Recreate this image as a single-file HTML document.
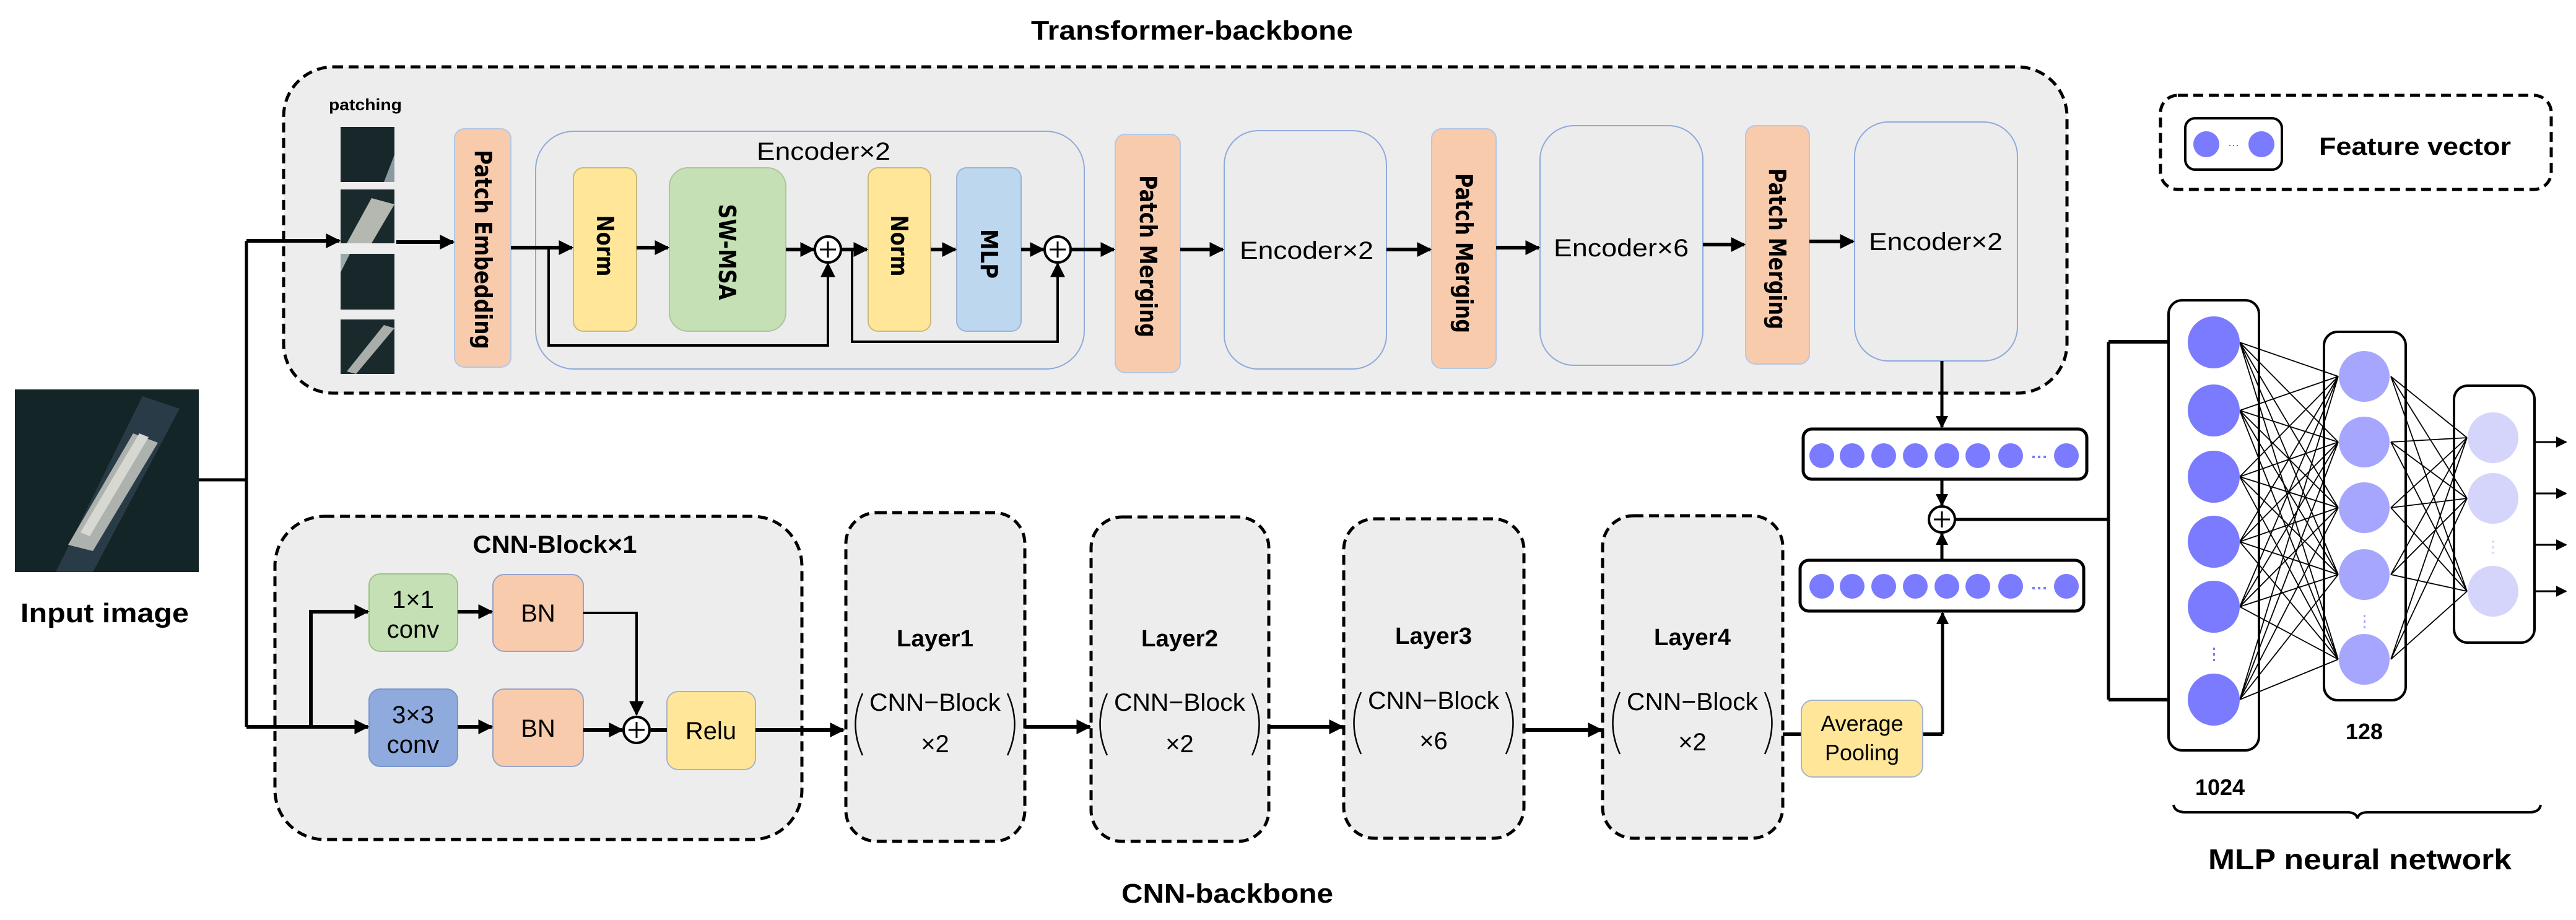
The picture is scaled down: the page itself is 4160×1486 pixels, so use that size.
<!DOCTYPE html>
<html><head><meta charset="utf-8"><style>html,body{margin:0;padding:0;background:#fff}svg{display:block}</style></head>
<body>
<svg width="4160" height="1486" viewBox="0 0 4160 1486" xmlns="http://www.w3.org/2000/svg" font-family="Liberation Sans, sans-serif">
<defs>
<marker id="a" viewBox="0 0 10 10" refX="9" refY="5" markerWidth="4" markerHeight="4" orient="auto" markerUnits="strokeWidth"><path d="M0 0L10 5L0 10z" fill="#000"/></marker>
<marker id="b" viewBox="0 0 10 10" refX="9" refY="5" markerWidth="6" markerHeight="6" orient="auto" markerUnits="strokeWidth"><path d="M0 0L10 5L0 10z" fill="#000"/></marker>
</defs>

<!-- Titles -->
<text x="1925" y="64" font-size="44" font-weight="bold" text-anchor="middle" textLength="520" lengthAdjust="spacingAndGlyphs">Transformer-backbone</text>
<text x="1982" y="1458" font-size="44" font-weight="bold" text-anchor="middle" textLength="342" lengthAdjust="spacingAndGlyphs">CNN-backbone</text>
<text x="3811" y="1404" font-size="46" font-weight="bold" text-anchor="middle" textLength="490" lengthAdjust="spacingAndGlyphs">MLP neural network</text>

<!-- Transformer dashed box -->
<rect x="458" y="108" width="2880" height="527" rx="80" fill="#ededed" stroke="#000" stroke-width="5" stroke-dasharray="16 9"/>
<text x="590" y="178" font-size="26" font-weight="bold" text-anchor="middle" textLength="118" lengthAdjust="spacingAndGlyphs">patching</text>
<!-- patches -->
<g>
<rect x="550" y="205" width="87" height="89" fill="#17272a"/><path d="M620 294L637 250L637 294z" fill="#8a9aa0"/>
<rect x="550" y="306" width="87" height="87" fill="#1a2a2c"/><path d="M560 393L600 320L637 330L600 393z" fill="#b5b8b0"/>
<rect x="550" y="410" width="87" height="90" fill="#17272a"/><path d="M550 410L565 410L550 440z" fill="#9aa"/>
<rect x="550" y="516" width="87" height="88" fill="#1a2a2c"/><path d="M560 600L620 525L637 530L575 604z" fill="#a9aeaa"/>
</g>
<!-- Boxes -->
<rect x="734" y="208" width="91" height="385" rx="16" fill="#f8cbad" stroke="#b4c7e7" stroke-width="2"/>
<rect x="865" y="212" width="886" height="384" rx="62" fill="#ececec" stroke="#8faadc" stroke-width="2"/>
<text x="1330" y="258" font-size="40" text-anchor="middle" textLength="216" lengthAdjust="spacingAndGlyphs">Encoder×2</text>
<rect x="926" y="271" width="102" height="264" rx="16" fill="#ffe699" stroke="#c9b97a" stroke-width="2"/>
<rect x="1081" y="271" width="188" height="264" rx="30" fill="#c5e0b4" stroke="#a9c89a" stroke-width="2"/>
<rect x="1402" y="271" width="101" height="264" rx="16" fill="#ffe699" stroke="#c9b97a" stroke-width="2"/>
<rect x="1545" y="271" width="104" height="264" rx="16" fill="#bdd7ee" stroke="#9ab4d4" stroke-width="2"/>
<rect x="1801" y="217" width="105" height="385" rx="16" fill="#f8cbad" stroke="#b4c7e7" stroke-width="2"/>
<rect x="1977" y="211" width="262" height="385" rx="55" fill="#ececec" stroke="#8faadc" stroke-width="2"/>
<rect x="2312" y="208" width="104" height="387" rx="16" fill="#f8cbad" stroke="#b4c7e7" stroke-width="2"/>
<rect x="2487" y="203" width="263" height="387" rx="55" fill="#ececec" stroke="#8faadc" stroke-width="2"/>
<rect x="2819" y="203" width="103" height="385" rx="16" fill="#f8cbad" stroke="#b4c7e7" stroke-width="2"/>
<rect x="2995" y="197" width="263" height="386" rx="55" fill="#ececec" stroke="#8faadc" stroke-width="2"/>
<g font-family="DejaVu Sans, sans-serif" font-weight="bold" font-size="38" text-anchor="middle">
<text transform="translate(767 403) rotate(90)" textLength="322" lengthAdjust="spacingAndGlyphs">Patch  Embedding</text>
<text transform="translate(964 397) rotate(90)" textLength="99" lengthAdjust="spacingAndGlyphs">Norm</text>
<text transform="translate(1161 407) rotate(90)" textLength="155" lengthAdjust="spacingAndGlyphs">SW-MSA</text>
<text transform="translate(1439 397) rotate(90)" textLength="99" lengthAdjust="spacingAndGlyphs">Norm</text>
<text transform="translate(1584 410) rotate(90)" textLength="80" lengthAdjust="spacingAndGlyphs">MLP</text>
<text transform="translate(1841 414) rotate(90)" textLength="262" lengthAdjust="spacingAndGlyphs">Patch  Merging</text>
<text transform="translate(2351 409) rotate(90)" textLength="258" lengthAdjust="spacingAndGlyphs">Patch  Merging</text>
<text transform="translate(2857 402) rotate(90)" textLength="260" lengthAdjust="spacingAndGlyphs">Patch  Merging</text>
</g>
<g font-size="40" text-anchor="middle">
<text x="2110" y="418" textLength="216" lengthAdjust="spacingAndGlyphs">Encoder×2</text>
<text x="2618" y="414" textLength="218" lengthAdjust="spacingAndGlyphs">Encoder×6</text>
<text x="3126" y="404" textLength="216" lengthAdjust="spacingAndGlyphs">Encoder×2</text>
</g>
<!-- plus circles transformer -->
<g fill="#fff" stroke="#000" stroke-width="4">
<circle cx="1337" cy="403" r="21"/><circle cx="1708" cy="403" r="21"/>
</g>
<g stroke="#000" stroke-width="3"><path d="M1337 390V416M1324 403H1350M1708 390V416M1695 403H1721"/></g>
<!-- transformer arrows -->
<g stroke="#000" stroke-width="6" fill="none" marker-end="url(#a)">
<path d="M398 389H548"/>
<path d="M640 391H732"/>
<path d="M825 400H924"/>
<path d="M1028 400H1079"/>
<path d="M1269 403H1314"/>
<path d="M1358 403H1400"/>
<path d="M1503 403H1543"/>
<path d="M1649 403H1685"/>
<path d="M1729 403H1799"/>
<path d="M1906 403H1975"/>
<path d="M2239 403H2310"/>
<path d="M2416 400H2485"/>
<path d="M2750 395H2817"/>
<path d="M2922 390H2993"/>
</g>
<g stroke="#000" stroke-width="4" fill="none" marker-end="url(#b)">
<path d="M886 400V558H1337V426"/>
<path d="M1376 403V552H1708V426"/>
</g>

<!-- Legend -->
<rect x="3489" y="154" width="631" height="152" rx="28" fill="#fff" stroke="#000" stroke-width="5" stroke-dasharray="16 9"/>
<rect x="3529" y="191" width="156" height="83" rx="16" fill="#fff" stroke="#000" stroke-width="4"/>
<ellipse cx="3563" cy="233" rx="21" ry="21" fill="#7b7bff"/>
<ellipse cx="3652" cy="233" rx="21" ry="21" fill="#7b7bff"/>
<text x="3607" y="240" font-size="18" fill="#5555ff" text-anchor="middle">···</text>
<text x="3745" y="250" font-size="40" font-weight="bold" textLength="310" lengthAdjust="spacingAndGlyphs">Feature vector</text>

<!-- Input image -->
<rect x="24" y="629" width="297" height="295" fill="#142528"/>
<path d="M90 924L230 640L290 660L150 924z" fill="#2a3b48"/>
<path d="M110 880L215 700L255 715L150 890z" fill="#aeb2ae"/>
<path d="M130 860L225 700L240 706L145 866z" fill="#d8d8d2"/>
<text x="169" y="1005" font-size="44" font-weight="bold" text-anchor="middle" textLength="272" lengthAdjust="spacingAndGlyphs">Input image</text>
<path d="M321 775H398M398 389V1174" stroke="#000" stroke-width="5" fill="none"/>

<!-- CNN block -->
<rect x="444" y="834" width="851" height="522" rx="80" fill="#ededed" stroke="#000" stroke-width="5" stroke-dasharray="16 9"/>
<text x="896" y="893" font-size="40" text-anchor="middle" font-weight="bold" textLength="265" lengthAdjust="spacingAndGlyphs">CNN-Block×1</text>
<rect x="596" y="927" width="143" height="125" rx="18" fill="#c5e0b4" stroke="#9cc386" stroke-width="2"/>
<rect x="796" y="928" width="146" height="124" rx="18" fill="#f8cbad" stroke="#9aa3c8" stroke-width="2"/>
<rect x="596" y="1113" width="143" height="125" rx="18" fill="#8faadc" stroke="#7a96cc" stroke-width="2"/>
<rect x="796" y="1113" width="146" height="125" rx="18" fill="#f8cbad" stroke="#9aa3c8" stroke-width="2"/>
<rect x="1077" y="1117" width="143" height="126" rx="18" fill="#ffe699" stroke="#a8b4cc" stroke-width="2"/>
<g font-size="40" text-anchor="middle">
<text x="667" y="982">1×1</text><text x="667" y="1030">conv</text>
<text x="667" y="1168">3×3</text><text x="667" y="1216">conv</text>
<text x="869" y="1004">BN</text><text x="869" y="1190">BN</text>
<text x="1148" y="1194">Relu</text>
</g>
<circle cx="1028" cy="1179" r="21" fill="#fff" stroke="#000" stroke-width="4"/>
<path d="M1028 1166V1192M1015 1179H1041" stroke="#000" stroke-width="3"/>
<g stroke="#000" stroke-width="6" fill="none" marker-end="url(#a)">
<path d="M398 1174H594"/>
<path d="M502 1174V988H594"/>
<path d="M739 988H794"/>
<path d="M739 1174H794"/>
<path d="M942 1179H1005"/>
<path d="M1220 1179H1362"/>
<path d="M1655 1174H1760"/>
<path d="M2049 1174H2168"/>
<path d="M2461 1179H2586"/>
</g>
<path d="M1051 1179H1077M2879 1186H2909M3105 1186H3137" stroke="#000" stroke-width="6"/>
<path d="M942 990H1028V1154" stroke="#000" stroke-width="4" fill="none" marker-end="url(#b)"/>

<!-- Layers -->
<g fill="#ededed" stroke="#000" stroke-width="5" stroke-dasharray="16 9">
<rect x="1366" y="828" width="289" height="531" rx="50"/>
<rect x="1762" y="835" width="287" height="524" rx="50"/>
<rect x="2170" y="838" width="291" height="516" rx="50"/>
<rect x="2588" y="833" width="291" height="521" rx="50"/>
</g>
<g text-anchor="middle">
<g font-size="38" font-weight="bold">
<text x="1510" y="1044" textLength="124" lengthAdjust="spacingAndGlyphs">Layer1</text>
<text x="1905" y="1044" textLength="124" lengthAdjust="spacingAndGlyphs">Layer2</text>
<text x="2315" y="1040" textLength="124" lengthAdjust="spacingAndGlyphs">Layer3</text>
<text x="2733" y="1042" textLength="124" lengthAdjust="spacingAndGlyphs">Layer4</text>
</g>
<g font-size="40">
<text x="1510" y="1148" textLength="212" lengthAdjust="spacingAndGlyphs">CNN−Block</text>
<text x="1510" y="1215">×2</text>
<text x="1905" y="1148" textLength="212" lengthAdjust="spacingAndGlyphs">CNN−Block</text>
<text x="1905" y="1215">×2</text>
<text x="2315" y="1145" textLength="212" lengthAdjust="spacingAndGlyphs">CNN−Block</text>
<text x="2315" y="1210">×6</text>
<text x="2733" y="1147" textLength="212" lengthAdjust="spacingAndGlyphs">CNN−Block</text>
<text x="2733" y="1212">×2</text>
</g>
</g>
<g stroke="#000" stroke-width="2.5" fill="none">
<path d="M1393 1120Q1370 1170 1393 1220M1627 1120Q1650 1170 1627 1220"/>
<path d="M1788 1120Q1765 1170 1788 1220M2022 1120Q2045 1170 2022 1220"/>
<path d="M2198 1118Q2175 1168 2198 1218M2432 1118Q2455 1168 2432 1218"/>
<path d="M2616 1118Q2593 1168 2616 1218M2850 1118Q2873 1168 2850 1218"/>
</g>
<!-- Average pooling -->
<rect x="2909" y="1131" width="196" height="124" rx="18" fill="#ffe699" stroke="#a8b4cc" stroke-width="2"/>
<text x="3007" y="1181" font-size="36" text-anchor="middle">Average</text>
<text x="3007" y="1228" font-size="36" text-anchor="middle">Pooling</text>

<!-- feature vectors -->
<rect x="2912" y="693" width="458" height="81" rx="14" fill="#fff" stroke="#000" stroke-width="5"/>
<rect x="2907" y="905" width="458" height="82" rx="14" fill="#fff" stroke="#000" stroke-width="5"/>
<g fill="#7b7bff">
<circle cx="2942" cy="736" r="20"/><circle cx="2991" cy="736" r="20"/><circle cx="3042" cy="736" r="20"/><circle cx="3093" cy="736" r="20"/><circle cx="3144" cy="736" r="20"/><circle cx="3194" cy="736" r="20"/><circle cx="3247" cy="736" r="20"/><circle cx="3337" cy="736" r="20"/>
<circle cx="2942" cy="947" r="20"/><circle cx="2991" cy="947" r="20"/><circle cx="3042" cy="947" r="20"/><circle cx="3093" cy="947" r="20"/><circle cx="3144" cy="947" r="20"/><circle cx="3194" cy="947" r="20"/><circle cx="3247" cy="947" r="20"/><circle cx="3337" cy="947" r="20"/>
<rect x="3282" y="736" width="4" height="4"/><rect x="3291" y="736" width="4" height="4"/><rect x="3300" y="736" width="4" height="4"/>
<rect x="3282" y="948" width="4" height="4"/><rect x="3291" y="948" width="4" height="4"/><rect x="3300" y="948" width="4" height="4"/>
</g>
<g stroke="#000" stroke-width="5" fill="none" marker-end="url(#a)">
<path d="M3136 583V690"/>
<path d="M3136 774V816"/>
<path d="M3136 905V862"/>
<path d="M3137 1186V990"/>
</g>
<circle cx="3136" cy="839" r="21" fill="#fff" stroke="#000" stroke-width="4"/>
<path d="M3136 826V852M3123 839H3149" stroke="#000" stroke-width="3"/>
<path d="M3157 839H3405M3405 552V1130" stroke="#000" stroke-width="5" fill="none"/>
<g stroke="#000" stroke-width="6" fill="none" marker-end="url(#a)">
<path d="M3405 552H3530"/><path d="M3405 1130H3530"/>
</g>

<!-- MLP -->
<rect x="3502" y="485" width="146" height="727" rx="22" fill="#fff" stroke="#000" stroke-width="4"/>
<rect x="3753" y="536" width="132" height="595" rx="22" fill="#fff" stroke="#000" stroke-width="4"/>
<rect x="3963" y="623" width="130" height="415" rx="22" fill="#fff" stroke="#000" stroke-width="4"/>
<g stroke="#000" stroke-width="1.8" fill="none">
<path d="M3617 553L3776 608M3617 553L3776 714M3617 553L3776 820M3617 553L3776 928M3617 553L3776 1065
M3617 663L3776 608M3617 663L3776 714M3617 663L3776 820M3617 663L3776 928M3617 663L3776 1065
M3617 770L3776 608M3617 770L3776 714M3617 770L3776 820M3617 770L3776 928M3617 770L3776 1065
M3617 875L3776 608M3617 875L3776 714M3617 875L3776 820M3617 875L3776 928M3617 875L3776 1065
M3617 980L3776 608M3617 980L3776 714M3617 980L3776 820M3617 980L3776 928M3617 980L3776 1065
M3617 1130L3776 608M3617 1130L3776 714M3617 1130L3776 820M3617 1130L3776 928M3617 1130L3776 1065
M3861 608L3984 707M3861 608L3984 805M3861 608L3984 955
M3861 714L3984 707M3861 714L3984 805M3861 714L3984 955
M3861 820L3984 707M3861 820L3984 805M3861 820L3984 955
M3861 928L3984 707M3861 928L3984 805M3861 928L3984 955
M3861 1065L3984 707M3861 1065L3984 805M3861 1065L3984 955"/>
</g>
<g fill="#7b7bff">
<circle cx="3575" cy="553" r="42"/><circle cx="3575" cy="663" r="42"/><circle cx="3575" cy="770" r="42"/><circle cx="3575" cy="875" r="42"/><circle cx="3575" cy="980" r="42"/><circle cx="3575" cy="1130" r="42"/>
<rect x="3574" y="1046" width="3" height="4"/><rect x="3574" y="1055" width="3" height="4"/><rect x="3574" y="1064" width="3" height="4"/>
</g>
<g fill="#a6a6ff">
<circle cx="3818" cy="608" r="41"/><circle cx="3818" cy="714" r="41"/><circle cx="3818" cy="820" r="41"/><circle cx="3818" cy="928" r="41"/><circle cx="3818" cy="1065" r="41"/>
<rect x="3817" y="993" width="3" height="4"/><rect x="3817" y="1002" width="3" height="4"/><rect x="3817" y="1011" width="3" height="4"/>
</g>
<g fill="#d5d5fc">
<circle cx="4026" cy="707" r="41"/><circle cx="4026" cy="805" r="41"/><circle cx="4026" cy="955" r="41"/>
<rect x="4025" y="873" width="3" height="4"/><rect x="4025" y="882" width="3" height="4"/><rect x="4025" y="891" width="3" height="4"/>
</g>
<g stroke="#000" stroke-width="3" fill="none" marker-end="url(#b)">
<path d="M4093 714H4144"/><path d="M4093 797H4144"/><path d="M4093 880H4144"/><path d="M4093 955H4144"/>
</g>
<text x="3818" y="1194" font-size="36" font-weight="bold" text-anchor="middle">128</text>
<text x="3585" y="1284" font-size="36" font-weight="bold" text-anchor="middle">1024</text>
<path d="M3510 1300Q3512 1312 3530 1312H3790Q3805 1312 3807 1322Q3809 1312 3824 1312H4085Q4101 1312 4103 1300" stroke="#000" stroke-width="4" fill="none"/>
</svg>
</body></html>
